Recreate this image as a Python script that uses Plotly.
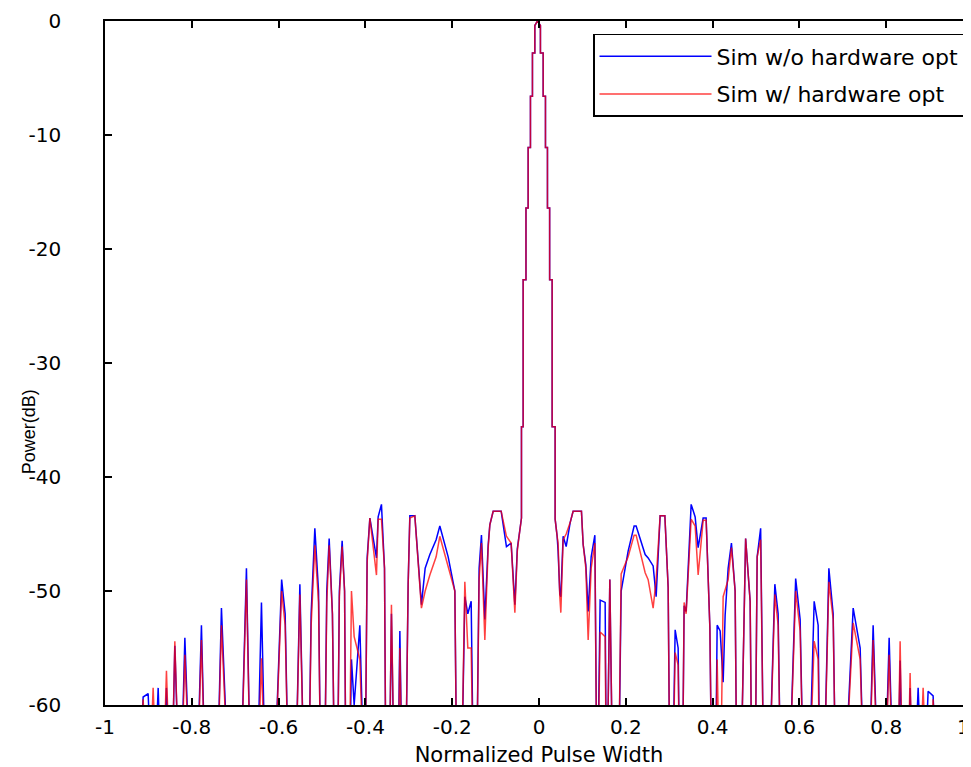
import plotly.graph_objects as go

# Normalized pulse width (x) shared by both simulated curves
x_norm = [
    -0.9236, -0.9121, -0.9006, -0.8891, -0.8775, -0.8683, -0.8584, -0.8476, -0.8391, -0.8268,
    -0.8160, -0.8015, -0.7900, -0.7778, -0.7669, -0.7432, -0.7317, -0.7123, -0.6893, -0.6741,
    -0.6633, -0.6510, -0.6395, -0.6287, -0.6126, -0.5930, -0.5849, -0.5757, -0.5626, -0.5510,
    -0.5395, -0.5319, -0.5250, -0.5165, -0.5080, -0.5019, -0.4950, -0.4890, -0.4835, -0.4760,
    -0.4700, -0.4651, -0.4600, -0.4536, -0.4480, -0.4443, -0.4380, -0.4321, -0.4259, -0.4128,
    -0.4013, -0.3960, -0.3897, -0.3745, -0.3706, -0.3630, -0.3560, -0.3522, -0.3460, -0.3400,
    -0.3321, -0.3260, -0.3206, -0.3140, -0.3084, -0.3015, -0.2976, -0.2861, -0.2709, -0.2623,
    -0.2515, -0.2370, -0.2285, -0.2093, -0.1939, -0.1886, -0.1800, -0.1709, -0.1640, -0.1563,
    -0.1500, -0.1448, -0.1380, -0.1326, -0.1248, -0.1172, -0.1133, -0.1056, -0.0872, -0.0750,
    -0.0642, -0.0556, -0.0500, -0.0469, -0.0404,
    -0.0404, -0.0365, -0.0365, -0.0300, -0.0300, -0.0250, -0.0250, -0.0197, -0.0197, -0.0151,
    -0.0151, -0.0096, -0.0096, -0.0036, 0.0033, 0.0033, 0.0096, 0.0096, 0.0149, 0.0149,
    0.0195, 0.0195, 0.0245, 0.0245, 0.0303, 0.0303, 0.0372, 0.0372,
    0.0418, 0.0440, 0.0480, 0.0503, 0.0556, 0.0626, 0.0718, 0.0786, 0.0978, 0.1017,
    0.1079, 0.1133, 0.1202, 0.1287, 0.1340, 0.1409, 0.1524, 0.1559, 0.1632, 0.1709,
    0.1824, 0.1893, 0.2054, 0.2192, 0.2238, 0.2446, 0.2515, 0.2630, 0.2699, 0.2791,
    0.2900, 0.2976, 0.3022, 0.3068, 0.3137, 0.3206, 0.3252, 0.3298, 0.3344, 0.3390,
    0.3506, 0.3598, 0.3667, 0.3782, 0.3851, 0.3937, 0.3990, 0.4059, 0.4105, 0.4174,
    0.4243, 0.4289, 0.4358, 0.4434, 0.4519, 0.4565, 0.4635, 0.4761, 0.4865, 0.4911,
    0.4973, 0.5027, 0.5107, 0.5188, 0.5280, 0.5434, 0.5510, 0.5580, 0.5741, 0.5914,
    0.6017, 0.6109, 0.6202, 0.6340, 0.6432, 0.6478, 0.6547, 0.6679, 0.6778, 0.6847,
    0.7008, 0.7239, 0.7400, 0.7508, 0.7584, 0.7699, 0.7837, 0.7953, 0.8068, 0.8183,
    0.8252, 0.8321, 0.8390, 0.8482, 0.8551, 0.8620, 0.8736, 0.8851, 0.8966, 0.9081,
    0.9197,
]

# Power (dB) without hardware optimisation (-70 = below the plotted floor)
power_wo_opt = [
    -70, -59.3, -59.0, -70, -58.5, -70, -58.5, -70, -54.8, -70,
    -54.1, -70, -70, -53.0, -70, -70, -51.5, -70, -70, -48.0,
    -70, -70, -51.0, -70, -70, -49.0, -52.0, -70, -70, -49.4,
    -70, -70, -52.0, -44.5, -50.0, -70, -70, -50.0, -45.4, -52.0,
    -70, -70, -50.0, -45.6, -50.0, -70, -70, -56.0, -60.0, -53.0,
    -70, -47.1, -43.6, -47.1, -43.5, -42.4, -48.0, -70, -70, -52.0,
    -70, -70, -53.5, -70, -70, -49.4, -43.4, -43.4, -51.2, -48.0,
    -46.8, -45.5, -44.3, -47.0, -50.0, -70, -70, -50.5, -52.0, -50.9,
    -70, -70, -48.0, -45.1, -52.5, -46.0, -44.2, -43.0, -43.0, -46.1,
    -45.8, -51.2, -46.3, -45.5, -43.6,
    -35.6, -35.6, -22.7, -22.7, -16.4, -16.4, -11.1, -11.1, -6.6, -6.6,
    -2.8, -2.8, -0.4, 0.0, -0.4, -2.8, -2.8, -6.6, -6.6, -11.1,
    -11.1, -16.4, -16.4, -22.7, -22.7, -35.6, -35.6, -43.7,
    -45.2, -46.5, -50.3, -50.5, -45.2, -46.1, -44.0, -43.0, -43.0, -45.9,
    -47.7, -51.8, -47.0, -45.1, -70, -50.8, -51.0, -70, -49.0, -70,
    -70, -50.0, -46.5, -44.3, -44.3, -46.8, -47.1, -47.8, -50.5, -43.4,
    -43.4, -49.7, -70, -70, -53.4, -55.0, -70, -70, -51.3, -51.8,
    -42.4, -43.5, -46.2, -43.6, -43.6, -53.2, -70, -70, -53.0, -53.5,
    -58.0, -52.1, -48.0, -45.8, -50.0, -70, -70, -45.4, -50.9, -70,
    -70, -47.0, -44.5, -70, -70, -49.4, -52.0, -70, -70, -48.9,
    -52.5, -70, -70, -50.9, -53.0, -70, -70, -48.0, -52.0, -70,
    -70, -51.5, -55.0, -70, -70, -53.0, -70, -70, -54.1, -70,
    -70, -56.1, -70, -70, -58.5, -70, -58.5, -70, -58.8, -59.2,
    -70,
]

# Power (dB) with hardware optimisation
power_w_opt = [
    -70, -59.5, -70, -58.5, -70, -70, -57.0, -70, -54.4, -70,
    -55.6, -70, -70, -54.3, -70, -70, -53.0, -70, -70, -49.0,
    -70, -70, -55.9, -70, -70, -50.0, -53.0, -70, -70, -50.3,
    -70, -70, -53.0, -46.0, -51.0, -70, -70, -51.0, -46.0, -52.0,
    -70, -70, -50.5, -46.1, -50.0, -70, -70, -50.0, -54.0, -56.0,
    -70, -47.5, -43.6, -48.6, -43.7, -43.7, -48.0, -70, -70, -51.2,
    -70, -70, -55.0, -70, -70, -49.4, -43.6, -43.4, -51.5, -50.0,
    -48.6, -47.0, -45.2, -48.0, -50.0, -70, -70, -49.2, -55.0, -55.0,
    -70, -70, -49.0, -45.8, -54.3, -46.3, -44.2, -43.0, -43.0, -45.2,
    -45.8, -51.9, -46.5, -45.5, -43.6,
    -35.6, -35.6, -22.7, -22.7, -16.4, -16.4, -11.1, -11.1, -6.6, -6.6,
    -2.8, -2.8, -0.4, 0.0, -0.4, -2.8, -2.8, -6.6, -6.6, -11.1,
    -11.1, -16.4, -16.4, -22.7, -22.7, -35.6, -35.6, -43.7,
    -45.2, -45.8, -50.5, -51.9, -45.5, -45.0, -44.0, -43.0, -43.0, -45.9,
    -48.0, -54.3, -48.0, -45.8, -70, -53.6, -54.0, -70, -49.0, -70,
    -70, -48.5, -47.0, -45.1, -45.1, -48.4, -49.0, -51.5, -49.0, -43.4,
    -43.4, -49.7, -70, -70, -55.4, -56.5, -70, -70, -51.0, -52.0,
    -43.7, -44.3, -48.6, -43.8, -43.8, -53.2, -70, -70, -56.0, -70,
    -50.5, -49.9, -49.0, -46.2, -50.0, -70, -70, -45.4, -50.9, -70,
    -70, -47.0, -45.5, -70, -70, -50.3, -53.0, -70, -70, -50.0,
    -53.5, -70, -70, -54.4, -56.0, -70, -70, -49.2, -52.5, -70,
    -70, -52.8, -56.0, -70, -70, -54.3, -70, -70, -55.6, -70,
    -70, -54.4, -70, -70, -57.2, -70, -70, -58.5, -70, -59.5,
    -70,
]

x_ticks = [-1, -0.8, -0.6, -0.4, -0.2, 0, 0.2, 0.4, 0.6, 0.8, 1]
x_tick_labels = ["-1", "-0.8", "-0.6", "-0.4", "-0.2", "0", "0.2", "0.4", "0.6", "0.8", "1"]
y_ticks = [0, -10, -20, -30, -40, -50, -60]
y_tick_labels = ["0", "-10", "-20", "-30", "-40", "-50", "-60"]

series_names = ["Sim w/o hardware opt", "Sim w/ hardware opt"]

FONT = "DejaVu Sans, Liberation Sans, Arial"
TICK_SIZE = 20

# the last x tick label sits at the right edge of the figure: it is drawn as an
# annotation anchored on its right side so that it is not cut off
axis_tick_text = x_tick_labels[:-1] + [""]

fig = go.Figure()
fig.add_trace(go.Scatter(
    x=x_norm, y=power_wo_opt, mode="lines", name=series_names[0],
    line=dict(color="rgb(0,0,255)", width=1.5), legendgroup="g1",
))
fig.add_trace(go.Scatter(
    x=x_norm, y=power_w_opt, mode="lines", name=series_names[1],
    line=dict(color="rgba(255,0,0,0.75)", width=1.5), legendgroup="g2",
))

fig.update_layout(
    width=971, height=767,
    margin=dict(l=97, r=6, t=13, b=70),
    paper_bgcolor="white", plot_bgcolor="white",
    showlegend=True,
    xaxis=dict(
        range=[-1, 1], tickvals=x_ticks, ticktext=axis_tick_text,
        ticks="inside", ticklen=7, tickwidth=1.5, tickcolor="black",
        showline=True, linecolor="black", linewidth=1.5, mirror="ticks",
        showgrid=False, zeroline=False, automargin=False,
        tickfont=dict(family=FONT, size=TICK_SIZE, color="black"), ticklabelstandoff=3,
        title=dict(text="Normalized Pulse Width", standoff=10,
                   font=dict(family=FONT, size=21, color="black")),
    ),
    yaxis=dict(
        range=[-60, 0], tickvals=y_ticks, ticktext=y_tick_labels,
        ticks="inside", ticklen=7, tickwidth=1.5, tickcolor="black",
        showline=True, linecolor="black", linewidth=1.5, mirror="ticks",
        showgrid=False, zeroline=False, automargin=False,
        tickfont=dict(family=FONT, size=TICK_SIZE, color="black"), ticklabelstandoff=38,
    ),
    legend=dict(
        x=0.9908, y=0.981, xanchor="right", yanchor="top",
        bgcolor="white", bordercolor="black", borderwidth=1.5,
        font=dict(family=FONT, size=22, color="black"),
        tracegroupgap=6, itemwidth=112,
    ),
    annotations=[
        dict(
            text="Power(dB)", xref="paper", yref="y", x=-0.0876, y=-36,
            xanchor="center", yanchor="middle",
            showarrow=False, textangle=-90,
            font=dict(family="Liberation Sans, Arial", size=18, color="black"),
        ),
        dict(
            text=x_tick_labels[-1], xref="x", yref="paper", x=x_ticks[-1], y=-0.012,
            xanchor="right", yanchor="top", xshift=-1, showarrow=False,
            font=dict(family=FONT, size=TICK_SIZE, color="black"),
        ),
    ],
)

fig.write_html("out.html")
